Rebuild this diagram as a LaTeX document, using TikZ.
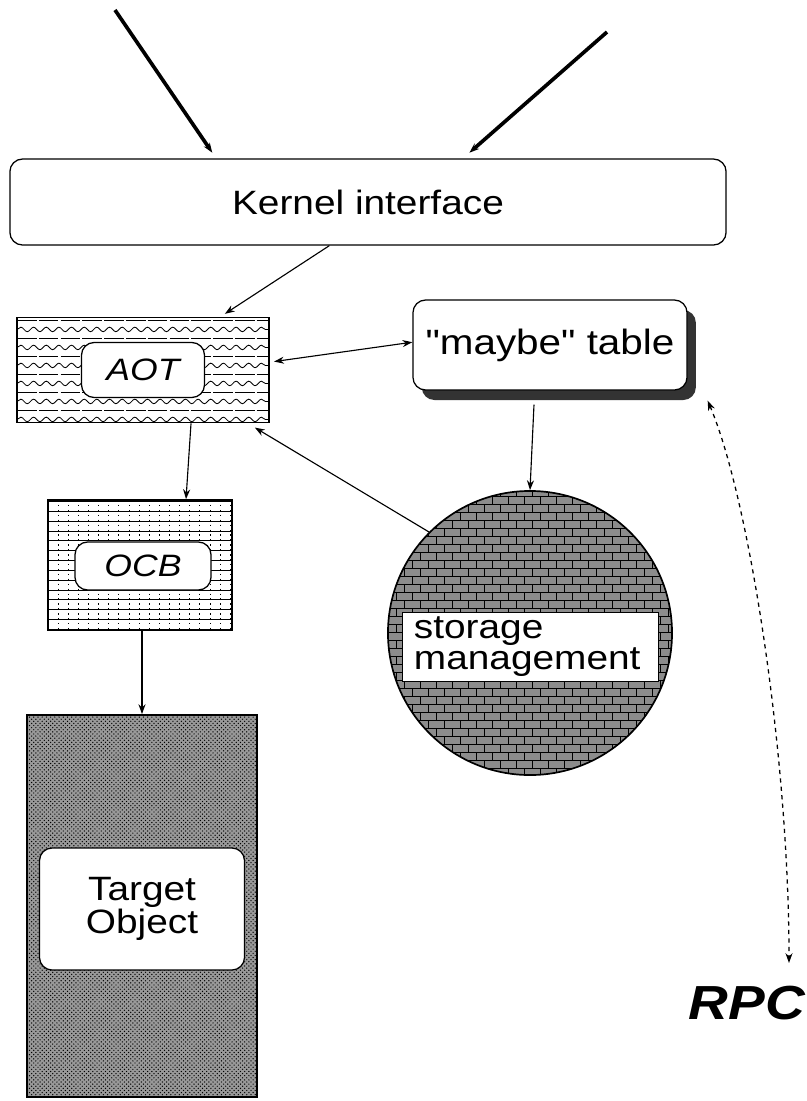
\documentclass[tikz,border=0pt]{standalone}
\usepackage{fontspec}
\setmainfont{Liberation Sans}[FakeStretch=1.15, Ligatures=TeXOff]
\usetikzlibrary{arrows.meta,patterns,shadows,decorations.pathmorphing}

\begin{document}
\begin{tikzpicture}[x=0.025cm, y=-0.025cm,
                    >={Stealth[length=7pt,width=5pt]},
                    every node/.style={font=\fontsize{24}{20}\selectfont},
                    box/.style={draw, line width=0.9pt, rounded corners=9pt, fill=white, align=center},
                    hatchbox/.style={draw, line width=1.2pt, inner sep=0pt},
                    conn/.style={->, line width=0.8pt},
                    feed/.style={->, line width=2.6pt},
                    wavefill/.style={path picture={
                      \foreach \k in {0,...,5} {
                        \draw[line width=0.6pt, dash pattern=on 14pt off 1.5pt]
                          ([yshift=-\k*12.8pt-2pt]path picture bounding box.north west)
                          -- ([yshift=-\k*12.8pt-2pt]path picture bounding box.north east);
                        \draw[line width=0.6pt, decorate, decoration={snake, amplitude=1.6pt, segment length=9pt}]
                          ([yshift=-\k*12.8pt-8.5pt]path picture bounding box.north west)
                          -- ([yshift=-\k*12.8pt-8.5pt]path picture bounding box.north east);
                      }}},
                    gridfill/.style={path picture={
                      \foreach \k in {0,...,13}
                        \draw[line width=0.6pt] ([yshift=-\k*7pt-1pt]path picture bounding box.north west)
                          -- ([yshift=-\k*7pt-1pt]path picture bounding box.north east);
                      \foreach \k in {1,...,18}
                        \draw[line width=0.6pt, dash pattern=on 1pt off 2.5pt]
                          ([xshift=\k*7.2pt]path picture bounding box.north west)
                          -- ([xshift=\k*7.2pt]path picture bounding box.south west);
                      }},
                    tag/.style={box, font=\fontsize{22}{22}\selectfont\itshape}]
  \useasboundingbox (0,0) rectangle (807,1101);

  \node[box, minimum width=17.9cm, minimum height=2.15cm] (kernel) at (368,202) {Kernel interface};

  \node[hatchbox, wavefill, minimum width=6.3cm, minimum height=2.625cm] (aot) at (143,370) {};
  \node[tag, minimum width=3.075cm, minimum height=1.375cm] (aotin) at (143,370) {AOT};

  \node[box, minimum width=6.85cm, minimum height=2.25cm, font=\fontsize{25}{25}\selectfont,
        drop shadow={shadow xshift=0.22cm, shadow yshift=-0.25cm, fill=black!80, opacity=1}]
        (maybe) at (550,345) {"maybe" table};

  \node[hatchbox, gridfill, minimum width=4.6cm, minimum height=3.25cm] (ocb) at (140,565) {};
  \node[tag, minimum width=3.4cm, minimum height=1.2cm] (ocbin) at (143,566) {OCB};

  \node[hatchbox, preaction={fill=black!40}, pattern=crosshatch dots,
        minimum width=5.75cm, minimum height=9.55cm] (target) at (142,906) {};
  \node[box, minimum width=5.125cm, minimum height=3.05cm] (targetin) at (142,909) {Target\\Object};

  \node[circle, draw, line width=1.2pt, preaction={fill=black!45}, pattern=bricks,
        minimum size=7.1cm, inner sep=0pt] (storage) at (530,633) {};
  \node[draw, fill=white, line width=0.6pt, text width=5.8cm, inner xsep=0.3cm, align=left,
        minimum height=1.725cm, font=\fontsize{24}{22}\selectfont] (band) at (530,647) {storage\\management};

  \node[anchor=west, font=\fontsize{34}{34}\selectfont\bfseries\itshape] (rpc) at (684,1003) {RPC};

  \coordinate (src1) at (115,10);
  \coordinate (src2) at (607,32);
  \coordinate (rpctop) at (789,963);

  \draw[feed] (src1) -- ([xshift=5.075cm, yshift=4pt]kernel.north west);
  \draw[feed] (src2) -- ([xshift=11.5cm, yshift=4pt]kernel.north west);
  \draw[conn] ([xshift=8cm]kernel.south west) -- ([xshift=-1.125cm, yshift=2pt]aot.north east);
  \draw[conn, <->] ([xshift=3pt, yshift=6pt]aot.east) -- ([yshift=2pt]maybe.west);
  \draw[conn] ([xshift=-0.4cm, yshift=-0.35cm]maybe.south) -- (storage.north);
  \draw[conn] (storage.135) -- ([xshift=-0.375cm, yshift=-3pt]aot.south east);
  \draw[conn] ([xshift=1.2cm]aot.south) -- ([xshift=1.15cm]ocb.north);
  \draw[conn] (ocb.south -| target.north) -- (target.north);
  \draw[<->, line width=0.9pt, dashed] ([xshift=0.5cm, yshift=-0.25cm]maybe.south east)
    .. controls (750,500) and (789,760) .. (rpctop);
\end{tikzpicture}
\end{document}
